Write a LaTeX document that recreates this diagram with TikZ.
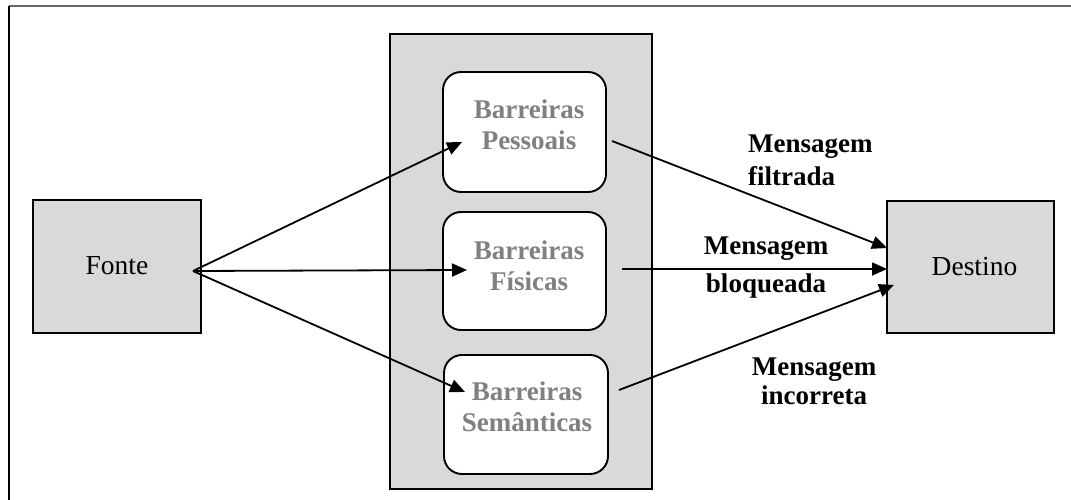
\documentclass[tikz,border=0pt]{standalone}
\usepackage{fontspec}
\setmainfont{Liberation Serif}
\usetikzlibrary{arrows.meta}
\definecolor{boxgray}{HTML}{D9D9D9}
\definecolor{txtgray}{HTML}{808080}
\begin{document}
\begin{tikzpicture}[x=1pt,y=-1pt,
  sqbox/.style={draw=black,line width=1.9pt,fill=boxgray,inner sep=0pt,
    font=\fontsize{27.5}{31}\selectfont},
  rbox/.style={draw=black,line width=1.9pt,fill=white,rounded corners=18pt,inner sep=0pt},
  btext/.style={inner sep=0pt,anchor=north,align=center,text=txtgray,
    font=\fontsize{27}{31}\selectfont\bfseries},
  mtext/.style={inner sep=0pt,text=black},
  conn/.style={line width=1.8pt,-{Triangle[length=15pt,width=13pt]}}]
\useasboundingbox (0,0) rectangle (1071,500);
% outer frame (top and left edges only visible)
\draw[line width=1.8pt,black!60] (9,6) -- (1071,6);
\draw[line width=1.8pt,black] (9,6) -- (9,500);
% container
\node[sqbox,minimum width=262pt,minimum height=455pt] (cont) at (521,261.5) {};
% source and destination
\node[sqbox,minimum width=168pt,minimum height=133pt] (fonte) at (117,266.5) {\raisebox{2pt}{Fonte}};
\node[sqbox,minimum width=167pt,minimum height=132pt] (dest) at (970.5,267) {\hspace*{8pt}\raisebox{2pt}{Destino}};
% barrier boxes
\node[rbox,minimum width=163pt,minimum height=120pt] (pes) at (524.5,132) {};
\node[rbox,minimum width=163pt,minimum height=118pt] (fis) at (524.5,271) {};
\node[rbox,minimum width=164pt,minimum height=119pt] (sem) at (526,414.5) {};
\node[btext] (tpes) at (529,99.5) {Barreiras\\Pessoais};
\node[btext] (tfis) at (529,240.5) {Barreiras\\Físicas};
\node[btext] (tsem) at (527,381.5) {Barreiras\\Semânticas};
% message labels
\node[mtext,anchor=north west,align=left,font=\fontsize{27}{33}\selectfont\bfseries] (lfil) at (748,135) {Mensagem\\filtrada};
\node[mtext,anchor=north,align=center,font=\fontsize{27}{38}\selectfont\bfseries] (lblo) at (766,237) {Mensagem\\bloqueada};
\node[mtext,anchor=north,align=center,font=\fontsize{27}{29}\selectfont\bfseries] (linc) at (814,358) {Mensagem\\incorreta};
% connector end points
\coordinate (fo) at (193,271);
\coordinate (pin) at (462,142);
\coordinate (fin) at (467,270);
\coordinate (sin) at (465,392);
\coordinate (pout) at (612,141);
\coordinate (fout) at (622,269);
\coordinate (sout) at (619,390);
\coordinate (d1) at (887,248);
\coordinate (d2) at (887,269);
\coordinate (d3) at (894,285);
% connectors
\draw[conn] (fo) -- (pin);
\draw[conn] (fo) -- (fin);
\draw[conn] (fo) -- (sin);
\draw[conn] (pout) -- (d1);
\draw[conn] (fout) -- (d2);
\draw[conn] (sout) -- (d3);
\end{tikzpicture}
\end{document}
